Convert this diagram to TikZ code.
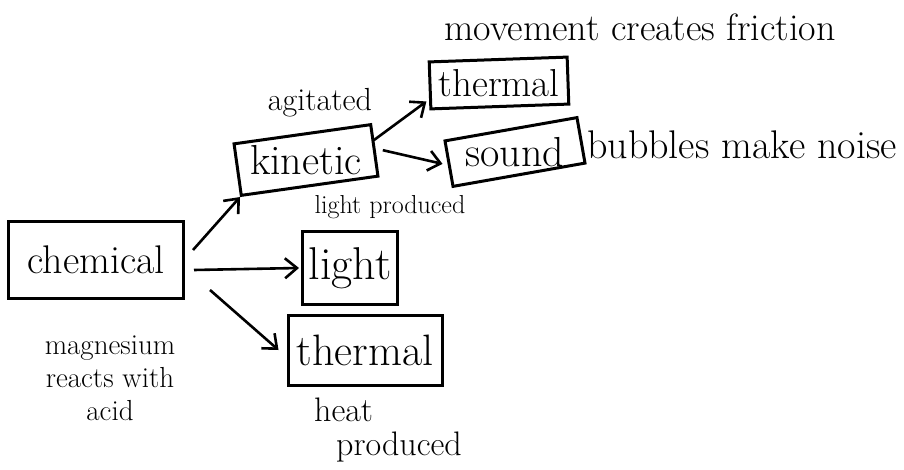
\documentclass[tikz,border=0pt]{standalone}
\usepackage{tikz}
\usetikzlibrary{arrows.meta, positioning}

\newcommand{\fsz}[1]{\fontsize{#1}{#1}\selectfont}

\begin{document}
\begin{tikzpicture}[
        x=1pt, y=-1pt,
        box/.style={draw, line width=3pt, inner sep=0pt, align=center, font=\fsz{42}},
        lbl/.style={align=center, font=\fsz{32}},
        arrow/.style={-{Straight Barb[length=12pt, width=20pt]}, line width=2.6pt},
    ]
        \useasboundingbox (0,0) rectangle (904,470);

        \node[box, minimum width=175pt, minimum height=76pt, font=\fsz{40}]            (chem)     at (96,260)  {chemical};
        \node[box, minimum width=138pt, minimum height=52pt, rotate=8]                 (kin)      at (306,160) {\rotatebox{-8}{kinetic}};
        \node[box, minimum width=138pt, minimum height=47pt, rotate=2, font=\fsz{39}]  (thermTop) at (499,83)  {\rotatebox{-2}{thermal}};
        \node[box, minimum width=134pt, minimum height=45pt, rotate=10]                (sound)    at (515,152) {\rotatebox{-10}{sound}};
        \node[box, minimum width=95pt,  minimum height=72pt, font=\fsz{46}]            (light)    at (350,268) {light};
        \node[box, minimum width=154pt, minimum height=70pt, font=\fsz{44}]            (thermBot) at (365,350) {thermal};

        \node[lbl, font=\fsz{38}] (friction) at (640,27)  {movement creates friction};
        \node[lbl]                (agit)     at (320,103) {agitated};
        \node[lbl, font=\fsz{40}] (bubbles)  at (742,145) {bubbles make noise};
        \node[lbl, font=\fsz{26}] (lightpr)  at (390,207) {light produced};
        \node[lbl, font=\fsz{29}] (magn)     at (110,378) {magnesium\\[4pt]reacts with\\[4pt]acid};
        \node[lbl, align=left, font=\fsz{34}] (heatpr) at (388,430) {heat\\\hspace{22pt}produced};

        \draw[arrow] ([shift={(8,-10)}]chem.east) -- (kin.south west);
        \draw[arrow] ([shift={(9,10)}]chem.east)  -- ([xshift=-2]light.west);
        \draw[arrow] ([shift={(25,30)}]chem.east) -- ([xshift=-8]thermBot.west);
        \draw[arrow] ([shift={(-2,-10)}]kin.east) -- ([shift={(-3,-9)}]thermTop.south west);
        \draw[arrow] ([xshift=7]kin.east)         -- ([xshift=-5]sound.west);
    \end{tikzpicture}
\end{document}
